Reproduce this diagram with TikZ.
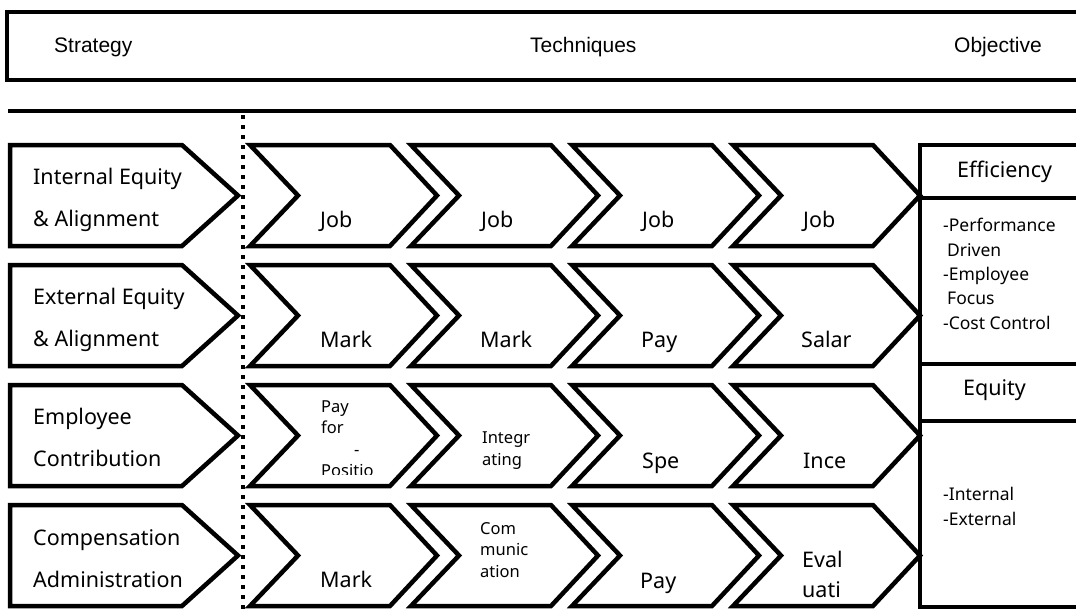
\documentclass[tikz,border=0pt]{standalone}
\usepackage{fontspec}
\setmainfont{Noto Sans}
\newfontfamily\headfont{Liberation Sans}
\usetikzlibrary{positioning}

\begin{document}
\begin{tikzpicture}[x=1pt, y=-1pt,
    boxline/.style={draw=black, line width=4.5pt},
    chev/.style={draw=black, fill=white, line width=4.5pt},
    dotline/.style={draw=black, line width=4pt, dash pattern=on 4pt off 6pt},
    headtxt/.style={anchor=base west, inner sep=0pt, font=\headfont\fontsize{21}{25}\selectfont},
    bigtxt/.style={anchor=base west, inner sep=0pt, align=left, font=\fontsize{21.5}{42}\selectfont},
    smalltxt/.style={anchor=base west, inner sep=0pt, align=left, font=\fontsize{16.5}{21.5}\selectfont},
    objtxt/.style={anchor=base west, inner sep=0pt, align=left, font=\fontsize{17.5}{24.3}\selectfont},
    strat/.pic={\draw[chev] (0,0) -- (172,0) -- (228,50.5) -- (172,101) -- (0,101) -- cycle;},
    tech/.pic={\draw[chev] (0,0) -- (140,0) -- (187,50.5) -- (140,101) -- (0,101) -- (48,50.5) -- cycle;}
  ]
  \clip (0,0) rectangle (1076,614);

  \draw[boxline] (7,12) rectangle (1090,80);
  \draw[boxline] (8,111) -- (1090,111);
  \node[headtxt] (strategy) at (54,52) {Strategy};
  \node[headtxt] (techniques) at (530,52) {Techniques};
  \node[headtxt] (objective) at (954,52) {Objective};

  \draw[dotline] (243,115) -- (243,614);

  \pic at (10,145) {strat};
  \pic at (10,265) {strat};
  \pic at (10,385) {strat};
  \pic at (10,505) {strat};
  \node[bigtxt] (s1) at (33,226) {Internal Equity\\\& Alignment};
  \node[bigtxt] (s2) at (33,346) {External Equity\\\& Alignment};
  \node[bigtxt] (s3) at (33,466) {Employee\\Contribution};
  \node[bigtxt] (s4) at (33,587) {Compensation\\Administration};

  \pic at (250,145) {tech};
  \pic at (411,145) {tech};
  \pic at (572,145) {tech};
  \pic at (733,145) {tech};
  \pic at (250,265) {tech};
  \pic at (411,265) {tech};
  \pic at (572,265) {tech};
  \pic at (733,265) {tech};
  \pic at (250,385) {tech};
  \pic at (411,385) {tech};
  \pic at (572,385) {tech};
  \pic at (733,385) {tech};
  \pic at (250,505) {tech};
  \pic at (411,505) {tech};
  \pic at (572,505) {tech};
  \pic at (733,505) {tech};

  \node[bigtxt] (t11) at (320,227) {Job};
  \node[bigtxt] (t12) at (481,227) {Job};
  \node[bigtxt] (t13) at (642,227) {Job};
  \node[bigtxt] (t14) at (803,227) {Job};
  \node[bigtxt] (t21) at (320,347) {Mark};
  \node[bigtxt] (t22) at (480,347) {Mark};
  \node[bigtxt] (t23) at (641,347) {Pay};
  \node[bigtxt] (t24) at (801,347) {Salar};
  \begin{scope}
    \clip (300,390) rectangle (440,474);
    \node[smalltxt] (t31) at (321,476.5) {Pay\\for\\\hspace*{33pt}-\\Positio};
  \end{scope}
  \node[smalltxt] (t32) at (482,465) {Integr\\ating};
  \node[bigtxt] (t33) at (642,468) {Spe};
  \node[bigtxt] (t34) at (803,468) {Ince};
  \node[bigtxt] (t41) at (320,587) {Mark};
  \node[smalltxt] (t42) at (480,577) {Com\\munic\\ation};
  \node[bigtxt] (t43) at (640,588) {Pay};
  \begin{scope}
    \clip (780,510) rectangle (910,598);
    \node[bigtxt, font=\fontsize{21.5}{30}\selectfont] (t44) at (802,597) {Eval\\uati};
  \end{scope}

  \draw[boxline] (920,145) rectangle (1090,364);
  \draw[boxline] (920,198) -- (1090,198);
  \draw[boxline] (920,364) rectangle (1090,607);
  \draw[boxline] (920,421) -- (1090,421);
  \node[bigtxt] (eff) at (957,177) {Efficiency};
  \node[objtxt] (effitems) at (943,329) {-Performance\\\hspace*{4pt}Driven\\-Employee\\\hspace*{4pt}Focus\\-Cost Control};
  \node[bigtxt] (equ) at (963,395) {Equity};
  \node[objtxt] (equitems) at (943,525) {-Internal\\-External};
\end{tikzpicture}
\end{document}
